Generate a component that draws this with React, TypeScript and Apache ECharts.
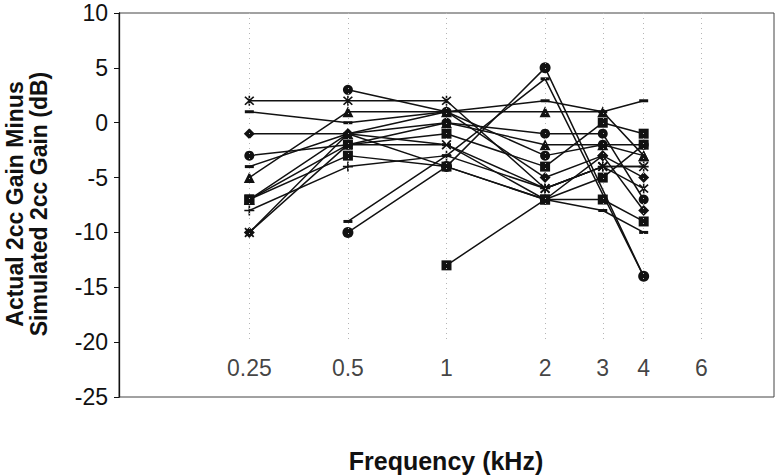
import React, { useEffect, useRef } from "react";
import * as echarts from "echarts";

const freqs = [0.25, 0.5, 1, 2, 3, 4];
const tickFreqs = [0.25, 0.5, 1, 2, 3, 4, 6];
const tickLabels = ["0.25", "0.5", "1", "2", "3", "4", "6"];

// values at 0.25, 0.5, 1, 2, 3, 4 kHz (null = no measurement)
const s1 = [2, 2, 2, -6, -4, -6];
const s2 = [1, 0, 1, 2, 1, 2];
const s3 = [-1, -1, 1, -5, -3, -5];
const s4 = [-3, -2, 0, -1, -1, -7];
const s5 = [-4, -1, -2, -7, -8, -10];
const s6 = [-5, 1, 1, 1, 1, -3];
const s7 = [-7, -2, -1, -4, 0, -1];
const s8 = [-7, -3, -4, -7, -7, -9];
const s9 = [-8, -4, -3, -6, -4, -4];
const s10 = [-10, -1, -4, -7, -3, -8];
const s11 = [null, 3, 1, -3, -2, -2];
const s12 = [-7, -1, 0, -2, -2, -3];
const s13 = [null, null, -13, -7, -5, -2];
const s14 = [null, -10, -4, 5, null, -14];
const s15 = [-10, -2, -2, -6, -4, -4];
const s16 = [null, -9, -3, 4, null, -14];

const PLUS = "path://M-0.8,-5H0.8V-0.8H5V0.8H0.8V5H-0.8V0.8H-5V-0.8H-0.8Z";
const XMARK = "path://M-4.5,-3.4L-3.4,-4.5L4.5,3.4L3.4,4.5Z M3.4,-4.5L4.5,-3.4L-3.4,4.5L-4.5,3.4Z";
const STAR = "path://M-4.5,-3.4L-3.4,-4.5L4.5,3.4L3.4,4.5Z M3.4,-4.5L4.5,-3.4L-3.4,4.5L-4.5,3.4Z M-0.7,-5H0.7V5H-0.7Z";

const seriesDefs: { v: (number | null)[]; sym: string; size: number | number[] }[] = [
  { v: s1, sym: STAR, size: 10 },
  { v: s2, sym: "rect", size: [9, 3] },
  { v: s3, sym: "diamond", size: 11 },
  { v: s4, sym: "circle", size: 10 },
  { v: s5, sym: "rect", size: [9, 3] },
  { v: s6, sym: "triangle", size: 11 },
  { v: s7, sym: "rect", size: 10 },
  { v: s8, sym: "rect", size: 10 },
  { v: s9, sym: PLUS, size: 10 },
  { v: s10, sym: "diamond", size: 11 },
  { v: s11, sym: "circle", size: 10 },
  { v: s12, sym: "triangle", size: 11 },
  { v: s13, sym: "rect", size: 10 },
  { v: s14, sym: "circle", size: 11 },
  { v: s15, sym: XMARK, size: 10 },
  { v: s16, sym: "rect", size: [9, 3] },
];

export default function App() {
  const ref = useRef<HTMLDivElement>(null);
  useEffect(() => {
    if (!ref.current) return;
    const chart = echarts.init(ref.current, null, { renderer: "svg" });
    const font = "'Liberation Sans', Arial, sans-serif";
    const dataSeries = seriesDefs.map((d, k) => ({
      name: "S" + (k + 1),
      type: "line",
      data: freqs
        .map((f, i) => [f, d.v[i]])
        .filter((p) => p[1] !== null && p[1] !== undefined),
      symbol: d.sym,
      symbolSize: d.size,
      showSymbol: true,
      itemStyle: { color: "#111", borderWidth: 0 },
      lineStyle: { color: "#111", width: 1.5 },
      z: 3,
    }));
    const labelSeries = {
      name: "ticks",
      type: "scatter",
      data: tickFreqs.map((f, i) => ({ value: [f, -22.4], name: tickLabels[i] })),
      symbolSize: 0,
      silent: true,
      label: {
        show: true,
        position: "inside",
        formatter: (p: any) => p.name,
        color: "#111",
        fontSize: 23,
        fontFamily: font,
      },
      markLine: {
        silent: true,
        symbol: "none",
        label: { show: false },
        lineStyle: { color: "#b5b5b5", type: [1, 4], width: 1 },
        data: tickFreqs.map((f) => [{ coord: [f, 10] }, { coord: [f, -20] }]),
      },
      z: 1,
    };
    chart.setOption({
      animation: false,
      backgroundColor: "#fff",
      grid: {
        left: 119,
        right: 5,
        top: 13,
        bottom: 79,
        show: true,
        borderColor: "#444",
        borderWidth: 1,
        backgroundColor: "transparent",
      },
      xAxis: {
        type: "log",
        logBase: 10,
        min: 0.1,
        max: 10,
        axisLine: { show: false },
        axisTick: { show: false },
        axisLabel: { show: false },
        splitLine: { show: false },
        minorSplitLine: { show: false },
      },
      yAxis: {
        type: "value",
        min: -25,
        max: 10,
        interval: 5,
        axisLine: { show: true, lineStyle: { color: "#111", width: 1.3 } },
        axisTick: { show: true, inside: false, length: 5, lineStyle: { color: "#111" } },
        axisLabel: { color: "#111", fontSize: 23, fontFamily: font, margin: 11 },
        splitLine: { show: false },
      },
      graphic: [
        {
          type: "text",
          x: 27,
          y: 204,
          rotation: Math.PI / 2,
          style: {
            text: "Actual 2cc Gain Minus\nSimulated 2cc Gain (dB)",
            fill: "#111",
            font: "bold 23px 'Liberation Sans', Arial, sans-serif",
            textAlign: "center",
            textVerticalAlign: "middle",
            lineHeight: 24,
          },
        },
        {
          type: "text",
          x: 446,
          y: 461,
          style: {
            text: "Frequency (kHz)",
            fill: "#111",
            font: "bold 25px 'Liberation Sans', Arial, sans-serif",
            textAlign: "center",
            textVerticalAlign: "middle",
          },
        },
      ],
      series: [labelSeries, ...dataSeries],
    });
    return () => chart.dispose();
  }, []);
  return (
    <div
      ref={ref}
      style={{ position: "absolute", left: 0, top: 0, width: 779, height: 476 }}
    />
  );
}
